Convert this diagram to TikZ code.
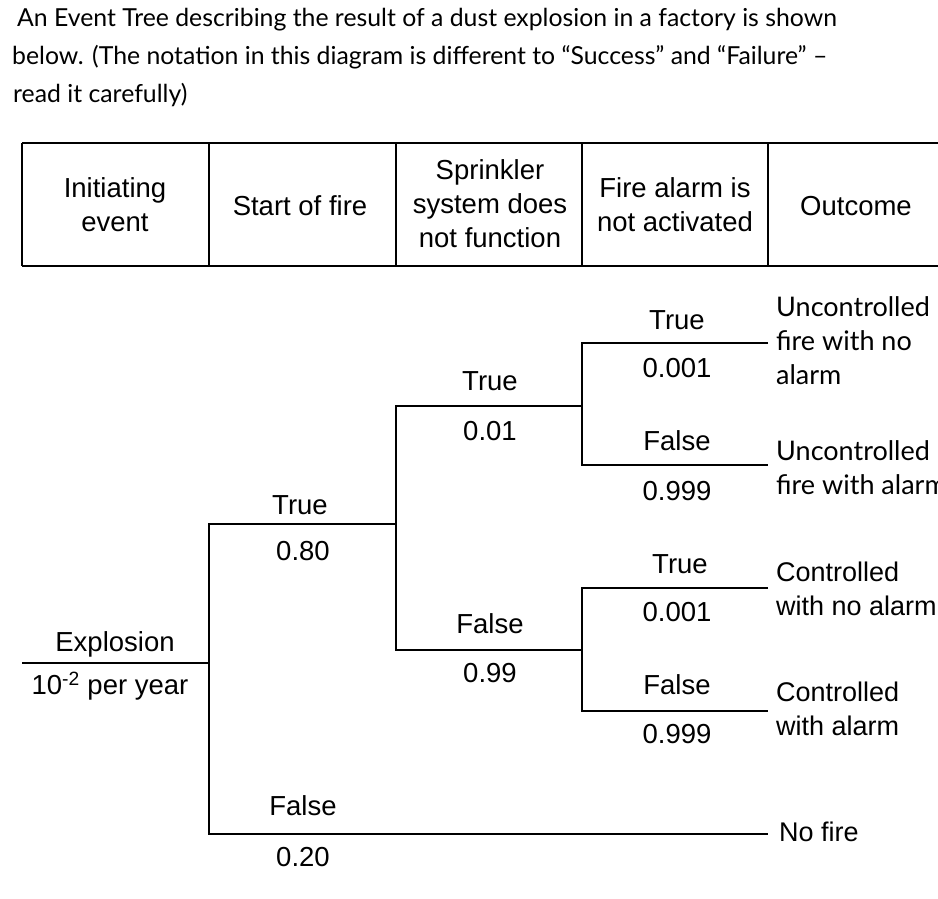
\documentclass[tikz,border=0pt]{standalone}
\usepackage{fontspec}
\setmainfont{Liberation Sans}
\newfontfamily\lato{Lato}
\begin{document}
\begin{tikzpicture}[x=1pt,y=-1pt,
  ln/.style={line width=1.4pt},
  intro/.style={anchor=west,font=\lato\fontsize{24.8}{28}\selectfont,inner sep=0},
  hd/.style={align=center,font=\fontsize{27.5}{34}\selectfont,inner sep=0},
  lb/.style={font=\fontsize{27.5}{30}\selectfont,inner sep=0},
  oc/.style={anchor=west,align=left,font=\fontsize{27}{34}\selectfont,inner sep=0},
  ocl/.style={anchor=west,align=left,font=\lato\fontsize{27}{34}\selectfont,inner sep=0}]
\useasboundingbox (0,0) rectangle (938,898);
\clip (0,0) rectangle (938,898);
\fill[white] (0,0) rectangle (938,898);
\node[intro] (t1) at (17,20) {An Event Tree describing the result of a dust explosion in a factory is shown};
\node[intro] (t2) at (12,57) {below. (The notation in this diagram is different to “Success” and “Failure” –};
\node[intro] (t3) at (13,95) {read it carefully)};
% table
\draw[ln] (22,143) -- (960,143) (22,266) -- (960,266);
\foreach \x in {22,209,396,582,768} \draw[ln] (\x,143) -- (\x,266);
\node[hd] (h1) at (115,205) {Initiating\\event};
\node[hd] (h2) at (300,206) {Start of fire};
\node[hd] (h3) at (490,204) {Sprinkler\\system does\\not function};
\node[hd] (h4) at (675,205) {Fire alarm is\\not activated};
\node[hd,anchor=west] (h5) at (800,206) {Outcome};
% tree
\coordinate (e0) at (22,663); \coordinate (e1) at (209,663);
\coordinate (a1) at (209,524); \coordinate (a2) at (396,524);
\coordinate (b1) at (209,834); \coordinate (b2) at (768,834);
\coordinate (c1) at (396,406); \coordinate (c2) at (582,406);
\coordinate (d1) at (396,650); \coordinate (d2) at (582,650);
\coordinate (f1) at (582,343); \coordinate (f2) at (768,343);
\coordinate (g1) at (582,465); \coordinate (g2) at (768,465);
\coordinate (k1) at (582,588); \coordinate (k2) at (768,588);
\coordinate (m1) at (582,711); \coordinate (m2) at (768,711);
\draw[ln] (e0) -- (e1);
\draw[ln] (a2) -- (a1) -- (b1) -- (b2);
\draw[ln] (c2) -- (c1) -- (d1) -- (d2);
\draw[ln] (f2) -- (f1) -- (g1) -- (g2);
\draw[ln] (k2) -- (k1) -- (m1) -- (m2);
\node[lb] (x1) at (115,644) {Explosion};
\node[lb] (x2) at (110,686) {10\textsuperscript{-2} per year};
\node[lb] (l1) at (300,505) {True};
\node[lb] (l2) at (303,551) {0.80};
\node[lb] (l3) at (303,806) {False};
\node[lb] (l4) at (303,857) {0.20};
\node[lb] (l5) at (490,381) {True};
\node[lb] (l6) at (490,431) {0.01};
\node[lb] (l7) at (490,624) {False};
\node[lb] (l8) at (490,673) {0.99};
\node[lb] (l9) at (677,320) {True};
\node[lb] (l10) at (677,368) {0.001};
\node[lb] (l11) at (677,441) {False};
\node[lb] (l12) at (677,491) {0.999};
\node[lb] (l13) at (680,564) {True};
\node[lb] (l14) at (677,612) {0.001};
\node[lb] (l15) at (677,685) {False};
\node[lb] (l16) at (677,734) {0.999};
\node[ocl] (o1) at (776,341) {Uncontrolled\\fire with no\\alarm};
\node[ocl] (o2) at (776,468) {Uncontrolled\\fire with alarm};
\node[oc] (o3) at (776,589) {Controlled\\with no alarm};
\node[oc] (o4) at (776,709) {Controlled\\with alarm};
\node[oc] (o5) at (779,832) {No fire};
\end{tikzpicture}
\end{document}
